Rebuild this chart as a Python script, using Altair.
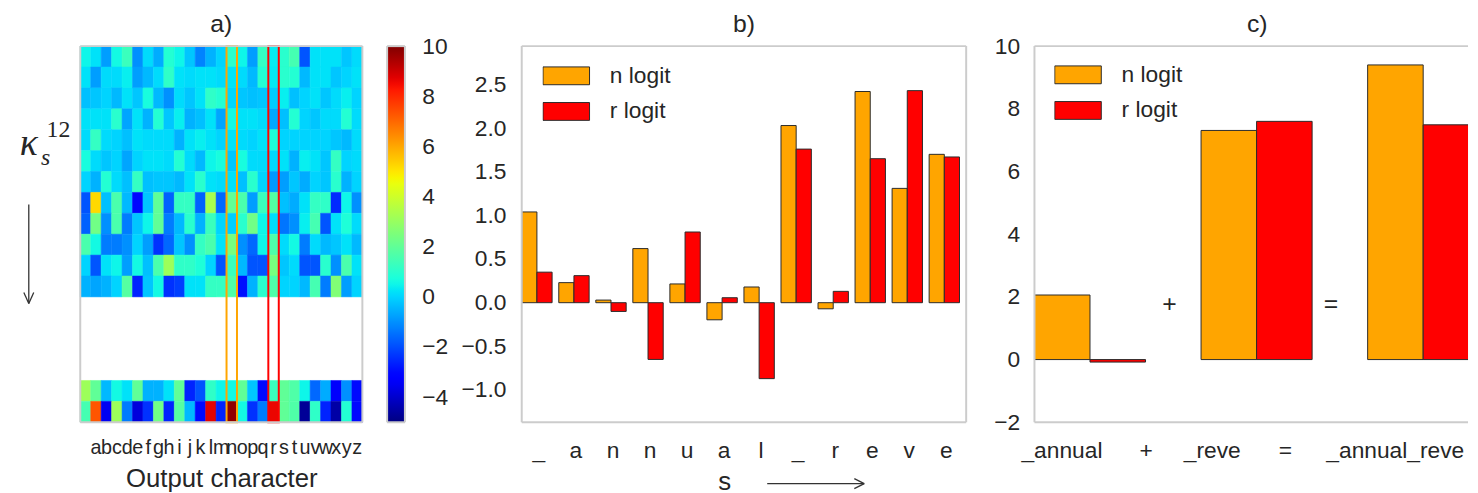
import json
import altair as alt
import numpy as np
import pandas as pd

TXT = "#262626"
FRAME = "#cccccc"
EDGE = "#2b2b2b"
FONT = "Liberation Sans"

# ---------------- panel a data ----------------
out_chars = [" "] + list("abcdefghijklmnopqrstuvwxyz")
slots = list(range(18))
top_slots = list(range(12))
bottom_slots = [16, 17]

heat_top = [
    [0.5, 0.2, -0.8, 0.6, 1.3, -1.0, 0.1, -0.6, 0.9, 0.5, -0.2, -1.2, -0.5, 0.0, 1.04, 0.5, -0.8, 1.2, 0.35, 1.0, 1.5, -1.9, 0.2, 0.2, 0.2, -0.2, 0.1],
    [0.2, -0.8, 0.1, 0.1, 0.4, -0.8, -0.4, 0.1, 1.1, 0.2, 0.1, 0.2, 0.2, 0.1, 0.23, 0.1, -0.4, 0.9, 0.31, 1.0, 0.9, -0.4, 0.2, 0.2, -0.2, 0.0, 0.2],
    [-0.3, -0.2, 0.0, -0.4, 0.2, -0.2, 0.7, -0.4, -1.0, 0.1, -0.2, 0.2, 1.1, 0.9, 0.03, -0.2, -0.3, -0.2, -0.10, 0.4, -0.3, 0.0, 0.2, -0.2, 0.1, 0.4, 0.0],
    [0.2, 0.2, 0.2, 1.0, -0.7, 0.2, -0.5, 0.9, -0.2, 0.4, -0.5, -0.3, 0.2, -0.7, 0.62, 0.2, 0.2, 0.1, -0.65, -0.3, 0.9, 0.0, -0.2, 0.1, 0.1, 0.9, 0.1],
    [0.1, 1.2, 0.1, 0.0, -0.3, 0.2, 0.1, 0.1, 0.1, -0.5, 0.2, 0.4, 0.2, 0.0, 0.215, 0.1, 0.0, 0.2, 0.81, 0.0, 0.0, 0.0, 0.0, 0.0, -0.2, -0.4, 0.1],
    [0.7, 0.1, -0.2, 0.0, -0.7, 0.0, 0.2, 0.2, 0.1, 0.9, 0.1, -0.4, 0.5, 0.7, -0.196, 0.7, 0.1, 0.1, 0.057, 0.2, -0.5, 0.4, 0.2, -0.2, 1.2, 0.0, 0.1],
    [0.0, -0.5, 0.9, 0.1, -0.3, 1.2, -0.3, -0.2, -0.2, -0.4, 0.2, 1.0, 0.2, 0.1, 0.18, -0.3, 1.0, 0.0, -0.87, -0.8, -0.2, -0.6, 0.0, -0.2, 1.0, -0.5, 0.0],
    [-1.9, 5.2, -0.3, 1.6, -0.4, -3.1, -0.2, 2.0, -1.7, 1.2, 1.2, -1.7, 3.3, -1.6, 2.03, 1.6, -0.8, 1.3, 1.76, -0.3, -0.6, 0.2, 1.2, 1.1, -2.5, 0.5, -1.0],
    [-1.7, 2.3, -1.0, 1.6, -1.3, -0.2, 0.5, 2.0, -1.3, -0.4, 1.0, -0.5, 1.3, 0.0, -0.07, 1.0, 2.3, 0.5, 0.13, -1.4, -1.0, 0.4, 1.5, -1.9, 0.2, 0.8, 0.1],
    [1.6, 0.6, -1.3, -1.3, -1.0, 0.0, -0.8, -2.4, -1.6, -0.2, -1.0, 1.2, 1.6, 0.2, 2.42, -1.0, -1.6, 0.5, 1.65, 0.1, 0.6, -1.3, 0.1, -0.4, -0.2, 0.2, -0.4],
    [0.0, -1.9, 0.2, 0.5, -0.8, 0.6, -0.3, 1.6, 3.1, 1.1, 1.1, 0.8, 0.0, -1.9, 1.31, -0.4, -1.9, -1.9, 2.43, -0.2, 0.1, -1.9, -1.9, 1.0, -1.0, 1.6, 0.2],
    [-0.5, -0.7, -0.5, 0.0, 1.8, -2.6, -0.2, 0.6, -2.4, -2.2, 0.2, 0.2, 1.2, 1.2, 1.70, -2.9, -0.5, 1.0, 1.67, 0.0, 0.0, -0.4, 1.5, -1.3, 2.6, -0.8, 0.0],
]
heat_bottom = [
    [3.1, 2.0, -0.4, 0.6, 0.2, 2.0, -0.5, -0.5, 0.2, 2.0, -2.6, -1.9, 1.1, 0.5, 0.6, 2.0, -0.2, -3.0, 1.3, 2.0, 1.7, 0.5, -1.6, -0.6, -3.3, -1.0, -3.0],
    [1.5, 7.3, -3.5, 3.1, -1.3, -3.8, -2.4, 2.3, -2.6, 1.8, -0.4, -3.0, 8.7, -2.6, 9.8, 0.6, -2.4, -1.3, 8.6, 2.0, 1.7, -4.7, 1.1, -2.6, -4.5, 0.9, -3.0],
]
highlight_chars = ["n", "r"]
highlight_colors = ["#FFA500", "#FF0000"]
colorbar_ticks = [-4, -2, 0, 2, 4, 6, 8, 10]
c_min, c_max = -5, 10

# ---------------- panel b data ----------------
series = ["n logit", "r logit"]
series_colors = ["#FFA500", "#FF0000"]
b_chars = ["_", "a", "n", "n", "u", "a", "l", "_", "r", "e", "v", "e"]
b_n_logit = [1.04, 0.23, 0.03, 0.62, 0.215, -0.196, 0.18, 2.03, -0.07, 2.42, 1.31, 1.70]
b_r_logit = [0.35, 0.31, -0.10, -0.65, 0.81, 0.057, -0.87, 1.76, 0.13, 1.65, 2.43, 1.67]
b_y_ticks = [-1.0, -0.5, 0.0, 0.5, 1.0, 1.5, 2.0, 2.5]

# ---------------- panel c data ----------------
c_groups = ["_annual", "_reve", "_annual_reve"]
c_n_logit = [2.06, 7.31, 9.40]
c_r_logit = [-0.08, 7.60, 7.49]
c_tick_labels = ["_annual", "+", "_reve", "=", "_annual_reve"]
c_tick_pos = [0.162, 0.667, 1.064, 1.503, 2.163]
c_ops = ["+", "="]
c_op_x = [0.81, 1.78]
c_op_y = [1.78, 1.78]
c_y_ticks = [-2, 0, 2, 4, 6, 8, 10]

# ---------------- styling helpers ----------------
def jet(f):
    r = np.interp(f, [0, 0.35, 0.66, 0.89, 1], [0, 0, 1, 1, 0.5])
    g = np.interp(f, [0, 0.125, 0.375, 0.64, 0.91, 1], [0, 0, 1, 1, 0, 0])
    b = np.interp(f, [0, 0.11, 0.34, 0.65, 1], [0.5, 1, 1, 0, 0])
    return "#%02x%02x%02x" % (int(round(float(r) * 255)), int(round(float(g) * 255)), int(round(float(b) * 255)))

stops = np.linspace(0, 1, 61)
jet_domain = [float(c_min + (c_max - c_min) * s) for s in stops]
jet_range = [jet(s) for s in stops]
jet_gradient = {"gradient": "linear", "x1": 0, "x2": 0, "y1": 1, "y2": 0,
                "stops": [{"offset": float(s), "color": jet(s)} for s in stops]}

WA, HA = 285, 380
WCB = 18
WB, HB = 449, 380
WC, HC = 438, 380

one = pd.DataFrame({"k": [0]})


def note(text, x, y, **kw):
    kw.setdefault("color", TXT)
    return alt.Chart(one).mark_text(text=text, **kw).encode(x=alt.value(x), y=alt.value(y))


def seg(x1, y1, x2, y2, **kw):
    return alt.Chart(one).mark_rule(**kw).encode(
        x=alt.value(x1), y=alt.value(y1), x2=alt.value(x2), y2=alt.value(y2))


def frame(w, h, right=True):
    parts = [seg(0, 0, w, 0, color=FRAME, strokeWidth=2),
             seg(0, h, w, h, color=FRAME, strokeWidth=2),
             seg(0, 0, 0, h, color=FRAME, strokeWidth=2)]
    if right:
        parts.append(seg(w, 0, w, h, color=FRAME, strokeWidth=2))
    return parts


# ---------------- panel a ----------------
heat_records = []
for slot, row in zip(top_slots + bottom_slots, heat_top + heat_bottom):
    for ch, v in zip(out_chars, row):
        heat_records.append({"slot": slot, "ch": ch, "v": v})
heat_df = pd.DataFrame(heat_records)
hl_df = pd.DataFrame({"ch": highlight_chars, "c": highlight_colors})

jet_scale = alt.Scale(domain=jet_domain, range=jet_range, interpolate="rgb", clamp=True)

x_a = alt.X("ch:N", scale=alt.Scale(domain=out_chars, paddingInner=0, paddingOuter=0),
            axis=alt.Axis(title="Output character", labelAngle=0, labelFontSize=20, labelPadding=16,
                          ticks=False, domain=False, labelOverlap=False, titleFontSize=26,
                          titleFontWeight="normal", titlePadding=8))

heat = alt.Chart(heat_df).mark_rect(strokeWidth=0.5).encode(
    x=x_a,
    y=alt.Y("slot:O", scale=alt.Scale(domain=slots, paddingInner=0, paddingOuter=0), axis=None),
    fill=alt.Fill("v:Q", scale=jet_scale, legend=None),
    stroke=alt.Stroke("v:Q", scale=jet_scale, legend=None),
)

hl = alt.Chart(hl_df).mark_rect(filled=False, strokeWidth=2).encode(
    x=alt.X("ch:N"), y=alt.value(0), y2=alt.value(HA), color=alt.Color("c:N", scale=None))

panel_a = alt.layer(
    heat, hl,
    *frame(WA, HA),
    note("a)", WA / 2, -14, fontSize=25, align="center", baseline="alphabetic"),
    note("κ", -52, 110, fontSize=38, font="Liberation Serif", fontStyle="italic", align="center", baseline="alphabetic"),
    note("s", -35, 120, fontSize=24, font="Liberation Serif", fontStyle="italic", align="center", baseline="alphabetic"),
    note("12", -22, 92, fontSize=24, font="Liberation Serif", align="center", baseline="alphabetic"),
    seg(-52, 160, -52, 260, color="#333333", strokeWidth=1.3),
    seg(-57, 249, -52, 260, color="#333333", strokeWidth=1.3),
    seg(-47, 249, -52, 260, color="#333333", strokeWidth=1.3),
    seg(-72, -35, 0, -35, opacity=0),
).properties(width=WA, height=HA, view=alt.ViewBackground(stroke="transparent"))

# ---------------- colorbar of panel a ----------------
cbar = alt.Chart(one).mark_rect(fill=jet_gradient).encode(
    x=alt.value(0), x2=alt.value(WCB),
    y=alt.Y(datum=c_max, type="quantitative",
            scale=alt.Scale(domain=[c_min, c_max], nice=False, zero=False),
            axis=alt.Axis(orient="right", values=colorbar_ticks, format="d", labelFontSize=23,
                          labelPadding=17, ticks=False, domain=False, grid=False, title=None,
                          labelFlush=False, labelOverlap=False)),
    y2=alt.datum(c_min),
)
panel_cb = alt.layer(
    cbar,
    *frame(WCB, HA),
    seg(-22, -35, 62, -35, opacity=0),
).properties(width=WCB, height=HA, view=alt.ViewBackground(stroke="transparent"))

# ---------------- panel b ----------------
w_b = 0.41
b_shift = 0.45
b_records = []
for i, ch in enumerate(b_chars):
    for k, (s, vals) in enumerate(zip(series, [b_n_logit, b_r_logit])):
        b_records.append({"i": i, "series": s, "x0": i + k * w_b, "x1": i + (k + 1) * w_b, "v": vals[i]})
b_df = pd.DataFrame(b_records)
b_tick_pos = [round(i + b_shift, 3) for i in range(len(b_chars))]
b_label_expr = f"{json.dumps(b_chars)}[round(datum.value - {b_shift})]"


def bar_legend(x, y):
    return alt.Legend(title=None, orient="none", legendX=x, legendY=y, direction="vertical",
                      symbolType="M-1,-0.383H1V0.383H-1Z", symbolSize=2209, symbolStrokeColor=EDGE,
                      symbolStrokeWidth=1, symbolOpacity=1, labelFontSize=23, labelColor=TXT,
                      labelOffset=20, clipHeight=22, rowPadding=13, padding=0)


bars_b = alt.Chart(b_df).mark_bar(stroke=EDGE, strokeWidth=1).encode(
    x=alt.X("x0:Q", scale=alt.Scale(domain=[0, 12], nice=False, zero=False),
            axis=alt.Axis(values=b_tick_pos, labelExpr=b_label_expr, labelFontSize=23, labelPadding=18,
                          ticks=False, domain=False, grid=False, title=None, labelFlush=False,
                          labelOverlap=False)),
    x2=alt.X2("x1"),
    y=alt.Y("v:Q", scale=alt.Scale(domain=[-1.37, 2.94], nice=False, zero=False),
            axis=alt.Axis(values=b_y_ticks, format=".1f", labelFontSize=23, labelPadding=16,
                          ticks=False, domain=False, grid=False, title=None)),
    y2=alt.datum(0),
    color=alt.Color("series:N", scale=alt.Scale(domain=series, range=series_colors),
                    legend=bar_legend(21, 19)),
)

panel_b = alt.layer(
    bars_b,
    *frame(WB, HB),
    note("b)", WB / 2, -14, fontSize=25, align="center", baseline="alphabetic"),
    note("s", 205, 448, fontSize=26, align="center", baseline="alphabetic"),
    seg(248, 442, 346, 442, color="#333333", strokeWidth=1.3),
    seg(336, 437, 346, 442, color="#333333", strokeWidth=1.3),
    seg(336, 447, 346, 442, color="#333333", strokeWidth=1.3),
    seg(-72, -35, WB + 10, -35, opacity=0),
).properties(width=WB, height=HB, view=alt.ViewBackground(stroke="transparent"))

# ---------------- panel c ----------------
c_unit = 168.3
c_records = []
for g, name in enumerate(c_groups):
    for k, (s, vals) in enumerate(zip(series, [c_n_logit, c_r_logit])):
        c_records.append({"g": name, "series": s, "x0": g + k / 3, "x1": g + (k + 1) / 3, "v": vals[g]})
c_df = pd.DataFrame(c_records)
ops_df = pd.DataFrame({"op": c_ops, "x": c_op_x, "y": c_op_y})
c_label_expr = f"{json.dumps(c_tick_labels)}[indexof({json.dumps(c_tick_pos)}, datum.value)]"

x_c_scale = alt.Scale(domain=[0, WC / c_unit], nice=False, zero=False)
y_c_scale = alt.Scale(domain=[-2, 10], nice=False, zero=False)

bars_c = alt.Chart(c_df).mark_bar(stroke=EDGE, strokeWidth=1, clip=True).encode(
    x=alt.X("x0:Q", scale=x_c_scale,
            axis=alt.Axis(values=c_tick_pos, labelExpr=c_label_expr, labelFontSize=23, labelPadding=18,
                          ticks=False, domain=False, grid=False, title=None, labelFlush=False,
                          labelOverlap=False)),
    x2=alt.X2("x1"),
    y=alt.Y("v:Q", scale=y_c_scale,
            axis=alt.Axis(values=c_y_ticks, format="d", labelFontSize=23, labelPadding=15,
                          ticks=False, domain=False, grid=False, title=None)),
    y2=alt.datum(0),
    color=alt.Color("series:N", scale=alt.Scale(domain=series, range=series_colors),
                    legend=bar_legend(20, 18)),
)

ops_c = alt.Chart(ops_df).mark_text(fontSize=25, color=TXT, baseline="middle", align="center").encode(
    x=alt.X("x:Q"), y=alt.Y("y:Q"), text="op:N")

panel_c = alt.layer(
    bars_c, ops_c,
    *frame(WC, HC, right=False),
    note("c)", 225, -14, fontSize=25, align="center", baseline="alphabetic"),
    seg(-56.7, -35, WC, -35, opacity=0),
).properties(width=WC, height=HC, view=alt.ViewBackground(stroke="transparent"))

chart = (
    alt.hconcat(panel_a, panel_cb, panel_b, panel_c, spacing=0)
    .resolve_scale(color="independent", fill="independent", stroke="independent")
    .resolve_legend(color="independent", fill="independent", stroke="independent")
    .properties(padding=0)
    .configure(font=FONT)
    .configure_view(stroke=FRAME, strokeWidth=2)
    .configure_axis(labelColor=TXT, titleColor=TXT, labelFont=FONT, titleFont=FONT)
    .configure_legend(labelFont=FONT)
)

chart.save("out.html", embed_options={"renderer": "svg", "actions": False})
